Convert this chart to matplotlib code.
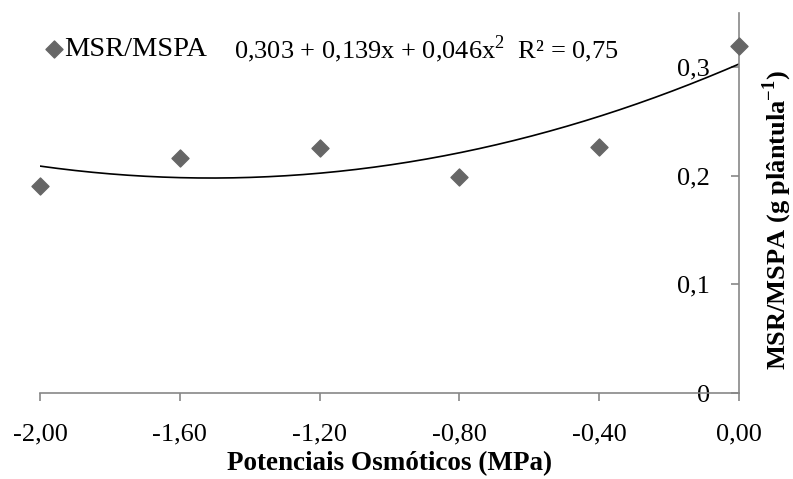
import numpy as np
import matplotlib.pyplot as plt
from matplotlib.ticker import FuncFormatter

plt.rcParams['font.family'] = ['Liberation Serif', 'DejaVu Serif']
plt.rcParams['mathtext.fontset'] = 'custom'
plt.rcParams['mathtext.rm'] = 'Liberation Serif'
plt.rcParams['mathtext.bf'] = 'Liberation Serif:bold'

# dados
potencial = [-2.0, -1.6, -1.2, -0.8, -0.4, 0.0]
msr_mspa = [0.191, 0.216, 0.226, 0.199, 0.227, 0.320]

# coeficientes da regressao (trendline)
a0, a1, a2 = 0.303, 0.139, 0.046

fig = plt.figure(figsize=(7.93, 4.79), dpi=100)
ax = fig.add_axes([40/793, 1-393/479, (739-40)/793, (393-13)/479])

xf = np.linspace(-2.0, 0.0, 200)
ax.plot(xf, a0 + a1*xf + a2*xf**2, color='black', lw=1.2)
ax.scatter(potencial, msr_mspa, marker='D', s=75, color='#666666', zorder=3, clip_on=False)

ax.set_xlim(-2.0, 0.0)
ax.set_ylim(0, 0.35)
ax.set_xticks([-2.0, -1.6, -1.2, -0.8, -0.4, 0.0])
ax.set_yticks([0, 0.1, 0.2, 0.3])
ax.xaxis.set_major_formatter(FuncFormatter(lambda v, p: ('%.2f' % v).replace('.', ',').replace('-0,00', '0,00')))
ax.yaxis.set_major_formatter(FuncFormatter(lambda v, p: '0' if v == 0 else ('%.1f' % v).replace('.', ',')))

ax.spines['top'].set_visible(False)
ax.spines['right'].set_visible(False)
ax.spines['left'].set_position(('data', 0))
for s in ['left', 'bottom']:
    ax.spines[s].set_color('#878787')
    ax.spines[s].set_linewidth(1.2)
ax.tick_params(axis='both', colors='#878787', labelcolor='black', labelsize=19, length=6, width=1.2)
ax.tick_params(axis='x', pad=16)
ax.tick_params(axis='y', pad=15)

ax.set_xlabel('Potenciais Osmóticos (MPa)', fontsize=19.5, fontweight='bold', labelpad=4)
fig.text(777/793, 1-220/479, 'MSR/MSPA (g plântula$^{\\mathbf{-1}}$)', rotation=90, fontsize=19,
         fontweight='bold', ha='center', va='center')

# legenda
ax.scatter([54/793], [1-49/479], marker='D', s=75, color='#666666', transform=fig.transFigure, clip_on=False)
fig.text(64/793, 1-49/479, 'MSR/MSPA', fontsize=20.5, va='center')
fig.text(234/793, 1-49/479, '0,303 + 0,139x + 0,046x$^2$  R² = 0,75', fontsize=19, va='center')

fig.savefig('out.png', dpi=100)
